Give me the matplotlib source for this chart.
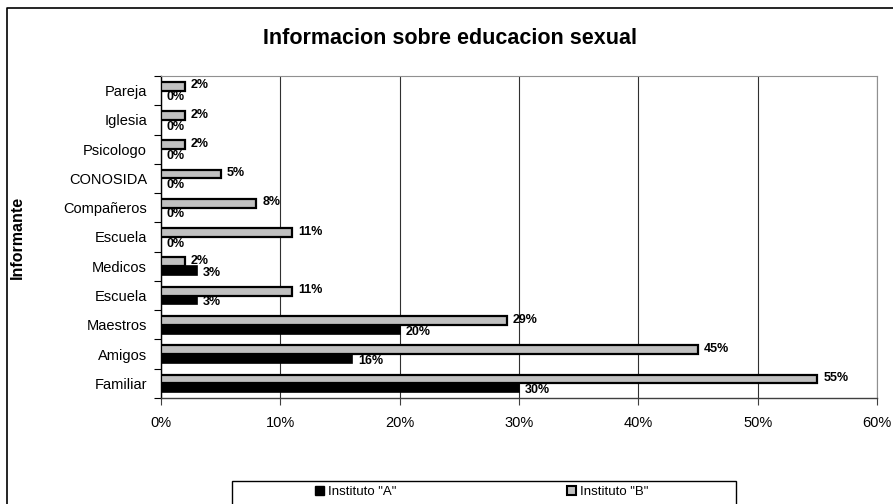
import matplotlib.pyplot as plt
import matplotlib.patches as mpatches
from matplotlib.lines import Line2D
import numpy as np

plt.rcParams['font.family'] = ['Liberation Sans', 'DejaVu Sans']

# data, bottom category first
categorias = ['Familiar', 'Amigos', 'Maestros', 'Escuela', 'Medicos', 'Escuela',
              'Compañeros', 'CONOSIDA', 'Psicologo', 'Iglesia', 'Pareja']
instituto_a = [30, 16, 20, 3, 3, 0, 0, 0, 0, 0, 0]
instituto_b = [55, 45, 29, 11, 2, 11, 8, 5, 2, 2, 2]
x_ticks = [0, 10, 20, 30, 40, 50, 60]

fig = plt.figure(figsize=(8.93, 5.04), dpi=100)
ax = fig.add_axes([161/893, 1 - 398/504, 716/893, 322/504])

y = np.arange(len(categorias))
h = 0.3

ax.barh(y - h/2, instituto_a, height=h, color='black', edgecolor='black', linewidth=1.2, zorder=3)
ax.barh(y + h/2, instituto_b, height=h, color='#c0c0c0', edgecolor='black', linewidth=1.6, zorder=3)

for i in range(len(categorias)):
    ax.text(instituto_b[i] + 0.5, y[i] + h/2 + 0.03, '%d%%' % instituto_b[i],
            fontsize=9, fontweight='bold', va='center', ha='left', zorder=4)
    ax.text(instituto_a[i] + 0.5, y[i] - h/2 - 0.08, '%d%%' % instituto_a[i],
            fontsize=9, fontweight='bold', va='center', ha='left', zorder=4)

ax.set_xlim(0, 60)
ax.set_ylim(-0.5, len(categorias) - 0.5)
ax.set_xticks(x_ticks)
ax.set_xticklabels(['%d%%' % t for t in x_ticks], fontsize=10.5)
ax.set_yticks(y)
ax.set_yticklabels(categorias, fontsize=10.5)
ax.set_yticks(np.arange(len(categorias) + 1) - 0.5, minor=True)
ax.tick_params(axis='y', which='major', length=0, pad=10)
ax.tick_params(axis='y', which='minor', length=5, direction='out', width=0.8)
ax.tick_params(axis='x', length=5, direction='out', width=0.8, pad=8, color='#404040')

ax.grid(axis='x', color='#303030', linewidth=0.8, zorder=0)
for s in ['top', 'right']:
    ax.spines[s].set_color('#909090')
    ax.spines[s].set_linewidth(0.8)
ax.spines['left'].set_linewidth(1.0)
ax.spines['bottom'].set_color('#404040')
ax.spines['bottom'].set_linewidth(1.0)

ax.set_ylabel('Informante', fontsize=11.5, fontweight='bold', labelpad=0)
ax.yaxis.set_label_coords(-136/716, 0.5)

fig.text(0.504, 1 - 38/504, 'Informacion sobre educacion sexual', fontsize=15.5,
         fontweight='bold', ha='center', va='center')

# outer chart border (only left and top visible)
fig.add_artist(Line2D([7/893, 7/893, 1.0], [0, 1 - 8/504, 1 - 8/504],
                      transform=fig.transFigure, color='black', linewidth=1.2))

# legend box
fig.add_artist(mpatches.Rectangle((232/893, -0.01), (736 - 232)/893, 0.01 + 23/504,
                                  transform=fig.transFigure, fill=False,
                                  edgecolor='black', linewidth=1.0))
h_a = mpatches.Patch(facecolor='black', edgecolor='black')
h_b = mpatches.Patch(facecolor='#c0c0c0', edgecolor='black', linewidth=1.5)
fig.legend([h_a], ['Instituto "A"'], loc='center left', bbox_to_anchor=(315/893, 1 - 492/504),
           frameon=False, fontsize=9.5, handlelength=0.65, handleheight=0.65, handletextpad=0.35,
           borderpad=0, borderaxespad=0)
fig.legend([h_b], ['Instituto "B"'], loc='center left', bbox_to_anchor=(567/893, 1 - 492/504),
           frameon=False, fontsize=9.5, handlelength=0.65, handleheight=0.65, handletextpad=0.35,
           borderpad=0, borderaxespad=0)

fig.savefig('out.png', dpi=100)
